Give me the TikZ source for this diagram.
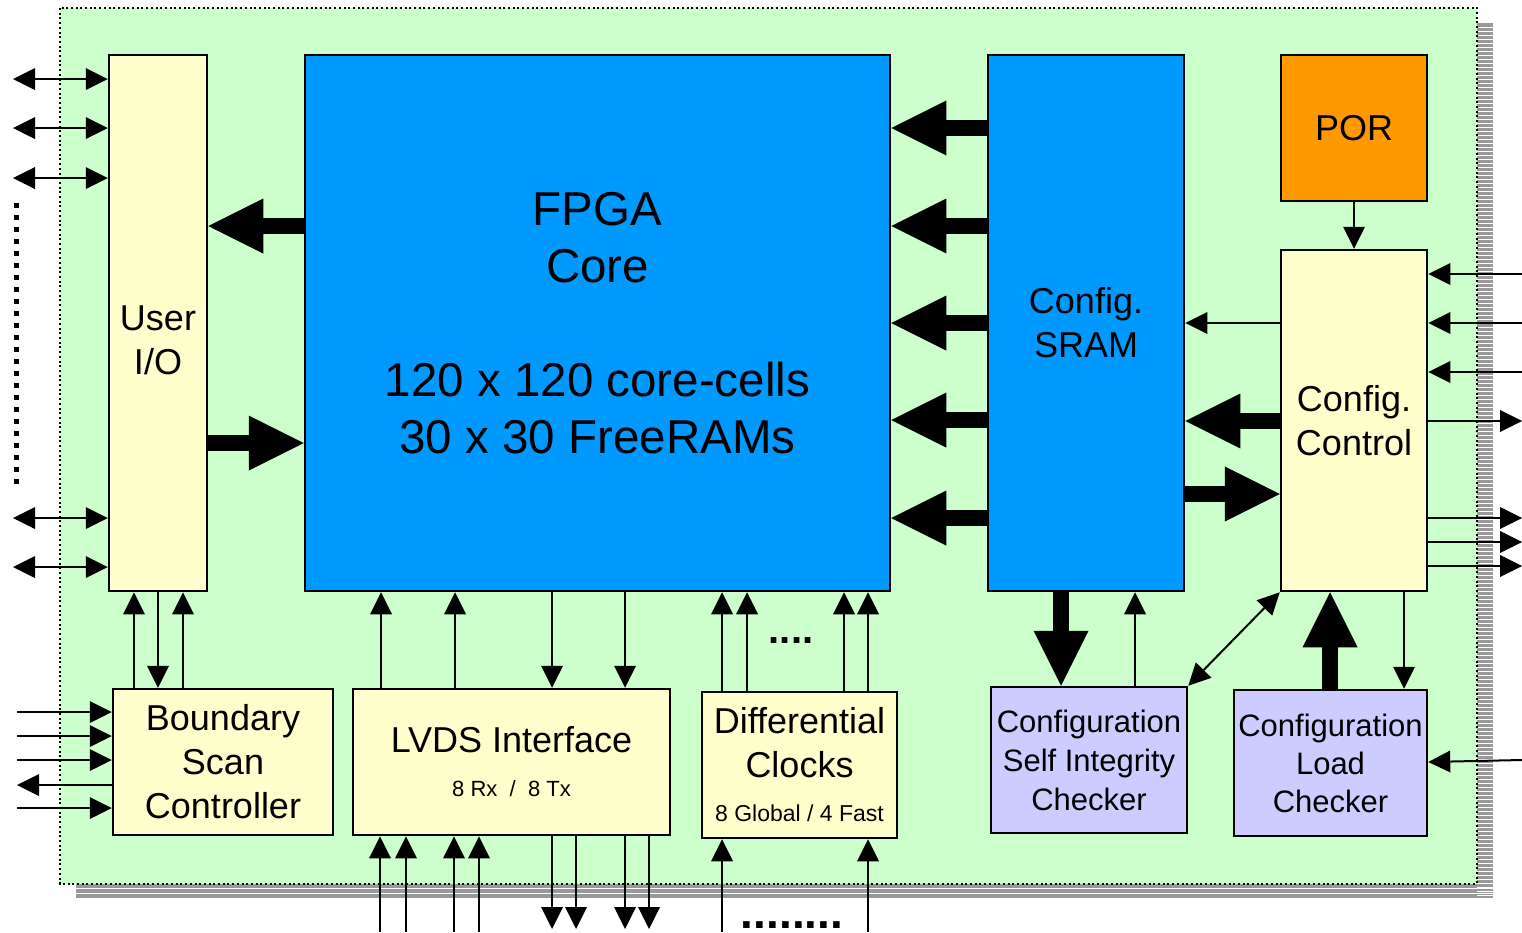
\documentclass[tikz,border=0pt]{standalone}
\usepackage{fontspec}
\setmainfont{Liberation Sans}
\usetikzlibrary{arrows.meta, positioning, calc}

\definecolor{chipgreen}{HTML}{CCFFCC}
\definecolor{blockyellow}{HTML}{FFFFCC}
\definecolor{coreblue}{HTML}{0099FF}
\definecolor{porange}{HTML}{FF9900}
\definecolor{checklilac}{HTML}{CCCCFF}
\definecolor{shadowgray}{HTML}{999999}

\tikzset{
  blk/.style={draw, line width=2.5pt, inner sep=0pt, align=center,
    font=\fontsize{36}{44}\selectfont},
  sig/.style={line width=2pt, -{Triangle[length=22pt,width=22pt,line width=0pt]}},
  bisig/.style={line width=2pt,
    {Triangle[length=22pt,width=22pt,line width=0pt]}-{Triangle[length=22pt,width=22pt,line width=0pt]}},
  bus/.style={line width=16pt, -{Triangle[length=55pt,width=55pt,line width=0pt]}},
}

\begin{document}
\begin{tikzpicture}[x=1pt, y=-1pt]
    \useasboundingbox (0,0) rectangle (1522,932);

    % Chip outline with striped shadow
    \fill[shadowgray] (76,884) rectangle (1493,898);
    \fill[shadowgray] (1477,23) rectangle (1493,898);
    \foreach \y in {27,31,...,895}{
        \draw[white, line width=1pt] (1477,\y) -- (1493,\y);
    }
    \foreach \y in {888.5,893}{
        \draw[white, line width=1pt] (76,\y) -- (1493,\y);
    }
    \fill[chipgreen] (60,8) rectangle (1477,884);
    \draw[line width=2pt, dash pattern=on 2pt off 2.7pt] (60,8) rectangle (1477,884);

    % Blocks
    \node[blk, fill=blockyellow, minimum width=98pt, minimum height=536pt,
      label={[align=center, font=\fontsize{36}{44}\selectfont, yshift=-17pt]center:User\\I/O}]
      (userio) at (158,323) {};
    \node[blk, fill=coreblue, minimum width=585pt, minimum height=536pt,
      font=\fontsize{47.5}{57}\selectfont] (core) at (597.5,323)
      {FPGA\\Core\\[57pt]120 x 120 core-cells\\30 x 30 FreeRAMs};
    \node[blk, fill=coreblue, minimum width=196pt, minimum height=536pt] (sram) at (1086,323) {Config.\\SRAM};
    \node[blk, fill=porange, minimum width=146pt, minimum height=146pt] (por) at (1354,128) {POR};
    \node[blk, fill=blockyellow, minimum width=146pt, minimum height=341pt] (cfgctl) at (1354,420.5) {Config.\\Control};
    \node[blk, fill=blockyellow, minimum width=220pt, minimum height=146pt] (bscan) at (223,762) {Boundary\\Scan\\Controller};
    \node[blk, fill=blockyellow, minimum width=317pt, minimum height=146pt] (lvds) at (511.5,762)
      {LVDS Interface\\{\fontsize{22}{26}\selectfont 8 Rx~~/~~8 Tx}};
    \node[blk, fill=blockyellow, minimum width=195pt, minimum height=146pt] (dclk) at (799.5,765)
      {Differential\\Clocks\\{\fontsize{23}{26}\selectfont 8 Global / 4 Fast}};
    \node[blk, fill=checklilac, minimum width=196pt, minimum height=146pt,
      font=\fontsize{31}{39}\selectfont] (sichk) at (1089,760) {Configuration\\Self Integrity\\Checker};
    \node[blk, fill=checklilac, minimum width=193pt, minimum height=146pt,
      font=\fontsize{31}{38}\selectfont] (ldchk) at (1330.5,763) {Configuration\\Load\\Checker};

    % Wide buses
    \draw[bus] (core.west |- 0,226) -- (userio.east |- 0,226);
    \draw[bus] (userio.east |- 0,443) -- (core.west |- 0,443);
    \foreach \y in {128,226,323,420,518}{
        \draw[bus] (sram.west |- 0,\y) -- (core.east |- 0,\y);
    }
    \draw[bus] (cfgctl.west |- 0,421) -- (sram.east |- 0,421);
    \draw[bus] (sram.east |- 0,494) -- (cfgctl.west |- 0,494);
    \draw[bus] (1061,0 |- sram.south) -- (1061,0 |- sichk.north);
    \draw[bus] (1330,0 |- ldchk.north) -- (1330,0 |- cfgctl.south);

    % Single signals between blocks
    \draw[sig] (cfgctl.west |- 0,323) -- (sram.east |- 0,323);
    \draw[sig] (por) -- (cfgctl);
    \draw[sig] (1135,0 |- sichk.north) -- (1135,0 |- sram.south);
    \draw[bisig] (sichk.north east) -- (cfgctl.south west);
    \draw[sig] (1404,0 |- cfgctl.south) -- (1404,0 |- ldchk.north);
    \foreach \x in {134,183}{
        \draw[sig] (\x,0 |- bscan.north) -- (\x,0 |- userio.south);
    }
    \draw[sig] (158,0 |- userio.south) -- (158,0 |- bscan.north);
    \foreach \x in {381,455}{
        \draw[sig] (\x,0 |- lvds.north) -- (\x,0 |- core.south);
    }
    \foreach \x in {552,625}{
        \draw[sig] (\x,0 |- core.south) -- (\x,0 |- lvds.north);
    }
    \foreach \x in {722,747,844,868}{
        \draw[sig] (\x,0 |- dclk.north) -- (\x,0 |- core.south);
    }

    % Pins: user I/O
    \foreach \y [count=\i] in {79,128,178,518,567}{
        \coordinate (uio\i) at (13,\y);
        \draw[bisig] (uio\i) -- (uio\i -| userio.west);
    }
    \draw[line width=5pt, dash pattern=on 5pt off 7pt] (16,203) -- (16,488);

    % Pins: boundary scan
    \foreach \y [count=\i] in {712,736,760,808}{
        \coordinate (bsin\i) at (17,\y);
        \draw[sig] (bsin\i) -- (bsin\i -| bscan.west);
    }
    \coordinate (bsout) at (17,785);
    \draw[sig] (bsout -| bscan.west) -- (bsout);

    % Pins: LVDS and clocks
    \foreach \x [count=\i] in {380,406,454,479}{
        \coordinate (lvin\i) at (\x,932);
        \draw[sig] (lvin\i) -- (lvin\i |- lvds.south);
    }
    \foreach \x [count=\i] in {552,576,625,649}{
        \coordinate (lvout\i) at (\x,929);
        \draw[sig] (lvout\i |- lvds.south) -- (lvout\i);
    }
    \foreach \x [count=\i] in {722,868}{
        \coordinate (ckin\i) at (\x,932);
        \draw[sig] (ckin\i) -- (ckin\i |- dclk.south);
    }
    \node[anchor=base, inner sep=0pt, font=\fontsize{40}{40}\selectfont\bfseries] (dotsa) at (791,643) {....};
    \node[anchor=base, inner sep=0pt, font=\fontsize{46}{46}\selectfont\bfseries] (dotsb) at (792,928) {........};

    % Pins: configuration control
    \foreach \y [count=\i] in {274,323,372}{
        \coordinate (cin\i) at (1522,\y);
        \draw[sig] (cin\i) -- (cin\i -| cfgctl.east);
    }
    \foreach \y [count=\i] in {421,518,542,566}{
        \coordinate (cout\i) at (1522,\y);
        \draw[sig] (cout\i -| cfgctl.east) -- (cout\i);
    }
    \coordinate (ldin) at (1522,760);
    \draw[sig] (ldin) -- (ldchk.east |- 0,762);
\end{tikzpicture}
\end{document}
